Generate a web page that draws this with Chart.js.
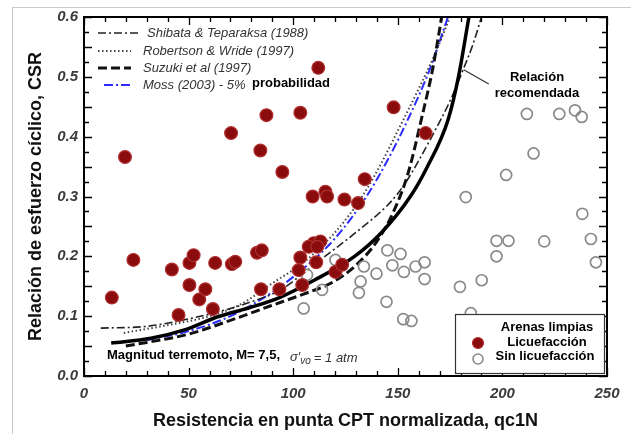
<!DOCTYPE html>
<html>
<head>
<meta charset="utf-8">
<script src="https://cdn.jsdelivr.net/npm/chart.js@4.4.0/dist/chart.umd.min.js"></script>
<style>
  html, body { margin: 0; padding: 0; background: #fff; overflow: hidden; }
  #frame { position: absolute; left: 12px; top: 7px; width: 700px; height: 500px; border: 1px solid #cacaca; }
  #wrap { position: absolute; left: 0; top: 0; width: 631px; height: 434px; }
</style>
</head>
<body>
<div id="frame"></div>
<div id="wrap"><canvas id="c" width="631" height="434"></canvas></div>
<script>
// Casos de licuefacción (rellenos) y sin licuefacción (vacíos)
const liqQc1N = [13.3, 19.6, 23.6, 42, 45.2, 50.4, 50.4, 52.4, 55.1, 58, 61.6, 62.7, 70.7, 72.3, 70.3,
  82.7, 85, 84.3, 87.2, 84.6, 93.4, 94.8, 103.4, 148, 163.3, 134.2, 109.3, 115.4, 116.2, 124.5, 131,
  109.8, 107.4, 113, 111.5, 103.4, 111, 102.6, 104.3, 120.2, 123.4, 112];
const liqCSR = [0.131, 0.366, 0.194, 0.178, 0.102, 0.152, 0.189, 0.202, 0.128, 0.145, 0.112, 0.189, 0.187, 0.191, 0.406,
  0.206, 0.21, 0.377, 0.436, 0.145, 0.145, 0.341, 0.44, 0.449, 0.406, 0.329, 0.3, 0.308, 0.3, 0.295, 0.289,
  0.222, 0.216, 0.225, 0.216, 0.198, 0.19, 0.177, 0.152, 0.174, 0.186, 0.515];

const noLiqQc1N = [120.2, 106.6, 113.8, 105, 133.8, 132.2, 131.4, 139.8, 145, 151.3, 147.4, 152.9, 158.5, 162.8, 162.8,
  144.6, 152.6, 156.5, 179.7, 182.5, 211.7, 227.2, 234.7, 237.9, 214.9, 201.8, 238.2, 197.2, 202.9, 220,
  242.3, 197.2, 244.7, 190.1, 184.9];
const noLiqCSR = [0.194, 0.169, 0.144, 0.113, 0.183, 0.158, 0.139, 0.171, 0.21, 0.204, 0.185, 0.174, 0.183, 0.19, 0.162,
  0.124, 0.095, 0.092, 0.149, 0.299, 0.438, 0.438, 0.444, 0.433, 0.372, 0.336, 0.271, 0.226, 0.226, 0.225,
  0.229, 0.2, 0.19, 0.16, 0.105];

// Curvas límite
const recQ = [13, 32, 48, 64, 80, 94, 110, 129, 142, 156, 164, 174, 179, 184];
const recCSR = [0.055, 0.063, 0.077, 0.099, 0.115, 0.132, 0.16, 0.199, 0.239, 0.30, 0.349, 0.428, 0.5, 0.6];

const shibataQ = [8, 30, 48, 64, 80, 94, 105, 113, 130, 145, 150, 155, 160, 167, 175, 181, 186, 190];
const shibataCSR = [0.08, 0.083, 0.094, 0.107, 0.124, 0.144, 0.172, 0.194, 0.24, 0.285, 0.305, 0.33, 0.36, 0.405, 0.46, 0.51, 0.555, 0.6];

const robertsonQ = [19, 40, 60, 75, 90, 105, 120, 133, 142, 150, 160, 168, 175];
const robertsonCSR = [0.072, 0.085, 0.1, 0.12, 0.155, 0.19, 0.24, 0.3, 0.355, 0.41, 0.48, 0.54, 0.6];

const suzukiQ = [20, 50, 70, 89, 105, 119, 130, 140, 148, 155, 162, 166.5, 171];
const suzukiCSR = [0.05, 0.07, 0.093, 0.117, 0.137, 0.157, 0.185, 0.225, 0.275, 0.34, 0.44, 0.51, 0.6];

const mossQ = [30, 50, 70, 90, 105, 120, 135, 145, 155, 165, 174];
const mossCSR = [0.06, 0.075, 0.1, 0.14, 0.18, 0.23, 0.3, 0.36, 0.43, 0.51, 0.6];

const xTickLabels = [0, 50, 100, 150, 200, 250];
const yTickLabels = [0.0, 0.1, 0.2, 0.3, 0.4, 0.5, 0.6];

const FONT = "'Liberation Sans', Arial, sans-serif";
const RED = '#8a0c0c';
const GRAY = '#8a8a8a';

const pts = (xs, ys) => xs.map((v, i) => ({ x: v, y: ys[i] }));

const curve = (data, color, width, dash) => ({
  type: 'line',
  data,
  borderColor: color,
  borderWidth: width,
  borderDash: dash,
  pointRadius: 0,
  fill: false,
  cubicInterpolationMode: 'monotone',
});

// Marcas, marco, leyendas y notas
const decor = {
  id: 'decor',
  afterDatasetsDraw(chart) {
    const { ctx, chartArea: a, scales: { x, y } } = chart;
    ctx.save();

    // marcas hacia dentro en los cuatro lados
    ctx.strokeStyle = '#000';
    ctx.lineWidth = 1.3;
    x.ticks.forEach(t => {
      const px = Math.round(x.getPixelForValue(t.value)) + 0.5;
      const len = t.value % 50 === 0 ? 8 : 5;
      ctx.beginPath();
      ctx.moveTo(px, a.bottom); ctx.lineTo(px, a.bottom - len);
      ctx.moveTo(px, a.top); ctx.lineTo(px, a.top + len);
      ctx.stroke();
    });
    y.ticks.forEach(t => {
      const py = Math.round(y.getPixelForValue(t.value)) + 0.5;
      const major = Math.abs(t.value * 20 - Math.round(t.value * 20)) < 1e-6;
      const len = major ? 8 : 5;
      ctx.beginPath();
      ctx.moveTo(a.left, py); ctx.lineTo(a.left + len, py);
      ctx.moveTo(a.right, py); ctx.lineTo(a.right - len, py);
      ctx.stroke();
    });

    // marco
    ctx.lineWidth = 2;
    ctx.strokeRect(a.left, a.top, a.right - a.left, a.bottom - a.top);

    // leyenda superior izquierda
    const items = [
      { label: 'Shibata & Teparaksa (1988)', color: '#222', width: 1.6, dash: [8, 3, 2, 3], x0: 98, x1: 138, tx: 147, y: 33 },
      { label: 'Robertson & Wride (1997)', color: '#444', width: 2, dash: [1.5, 2.5], x0: 98, x1: 131, tx: 143, y: 51 },
      { label: 'Suzuki et al (1997)', color: '#111', width: 3, dash: [9, 4], x0: 98, x1: 131, tx: 143, y: 68 },
      { label: 'Moss (2003) - 5%', color: '#2b2bff', width: 2, dash: [9, 3, 2, 3], x0: 104, x1: 131, tx: 143, y: 85 },
    ];
    ctx.textBaseline = 'middle';
    ctx.textAlign = 'left';
    items.forEach(it => {
      ctx.strokeStyle = it.color;
      ctx.lineWidth = it.width;
      ctx.setLineDash(it.dash);
      ctx.beginPath(); ctx.moveTo(it.x0, it.y); ctx.lineTo(it.x1, it.y); ctx.stroke();
      ctx.setLineDash([]);
      ctx.fillStyle = '#333';
      ctx.font = `italic 13px ${FONT}`;
      ctx.fillText(it.label, it.tx, it.y);
    });
    ctx.fillStyle = '#000';
    ctx.font = `bold 13px ${FONT}`;
    ctx.fillText('probabilidad', 252, 83);

    // relación recomendada
    ctx.textAlign = 'center';
    ctx.fillText('Relación', 537, 77);
    ctx.fillText('recomendada', 537, 93);
    ctx.strokeStyle = '#333';
    ctx.lineWidth = 1.2;
    ctx.beginPath();
    ctx.moveTo(x.getPixelForValue(181.5), y.getPixelForValue(0.512));
    ctx.lineTo(x.getPixelForValue(193.5), y.getPixelForValue(0.488));
    ctx.stroke();

    // nota inferior
    ctx.textAlign = 'left';
    ctx.fillStyle = '#000';
    ctx.font = `bold 13px ${FONT}`;
    ctx.fillText('Magnitud terremoto, M= 7,5,', 107, 355);
    ctx.fillStyle = '#333';
    ctx.font = `italic 13px ${FONT}`;
    let sx = 290;
    ctx.fillText('σ′', sx, 357);
    sx += ctx.measureText('σ′').width;
    ctx.font = `italic 10px ${FONT}`;
    ctx.fillText('vo', sx, 361);
    sx += ctx.measureText('vo').width + 3;
    ctx.font = `italic 13px ${FONT}`;
    ctx.fillText('= 1 atm', sx, 358);

    // leyenda de símbolos
    ctx.fillStyle = '#fff';
    ctx.fillRect(455, 314, 149, 59);
    ctx.strokeStyle = '#333';
    ctx.lineWidth = 1.2;
    ctx.strokeRect(455.5, 314.5, 149, 59);
    ctx.fillStyle = '#000';
    ctx.font = `bold 13px ${FONT}`;
    ctx.textAlign = 'center';
    ctx.fillText('Arenas limpias', 547, 327);
    ctx.fillText('Licuefacción', 547, 342);
    ctx.fillText('Sin licuefacción', 545, 356);
    ctx.beginPath(); ctx.arc(478, 343, 5.5, 0, Math.PI * 2);
    ctx.fillStyle = RED; ctx.fill();
    ctx.strokeStyle = '#b03030'; ctx.lineWidth = 1.2; ctx.stroke();
    ctx.beginPath(); ctx.arc(478, 359, 5, 0, Math.PI * 2);
    ctx.strokeStyle = GRAY; ctx.lineWidth = 1.6; ctx.stroke();

    ctx.restore();
  }
};

new Chart(document.getElementById('c'), {
  type: 'scatter',
  data: {
    datasets: [
      {
        label: 'Licuefacción',
        data: pts(liqQc1N, liqCSR),
        backgroundColor: RED,
        borderColor: '#b03030',
        borderWidth: 1.2,
        pointRadius: 6.4,
      },
      {
        label: 'Sin licuefacción',
        data: pts(noLiqQc1N, noLiqCSR),
        backgroundColor: 'rgba(255,255,255,0)',
        borderColor: GRAY,
        borderWidth: 1.7,
        pointRadius: 5.5,
      },
      curve(pts(recQ, recCSR), '#000', 3.5, []),
      curve(pts(suzukiQ, suzukiCSR), '#111', 3, [9, 4]),
      curve(pts(shibataQ, shibataCSR), '#222', 1.6, [8, 3, 2, 3]),
      curve(pts(robertsonQ, robertsonCSR), '#444', 2, [1.5, 2.5]),
      curve(pts(mossQ, mossCSR), '#2b2bff', 2, [9, 3, 2, 3]),
    ]
  },
  options: {
    responsive: false,
    animation: false,
    layout: { padding: { left: 0, right: 24, top: 17, bottom: 0 } },
    plugins: { legend: { display: false }, tooltip: { enabled: false } },
    scales: {
      x: {
        type: 'linear', min: 0, max: 250,
        afterFit(s) { s.height = 58; },
        grid: { drawOnChartArea: false, drawTicks: false },
        border: { display: false },
        ticks: {
          stepSize: 10, maxTicksLimit: 100, autoSkip: false, maxRotation: 0, padding: 9,
          color: '#3c3c3c', font: { family: FONT, size: 15, style: 'italic', weight: 'bold' },
          callback: v => xTickLabels.includes(v) ? String(v) : '',
        },
        title: {
          display: true, text: 'Resistencia en punta CPT normalizada, qc1N', color: '#111',
          font: { family: FONT, size: 18, weight: 'bold' }, padding: { top: 0, bottom: 2 },
        },
      },
      y: {
        min: 0, max: 0.6,
        afterFit(s) { s.width = 84; },
        grid: { drawOnChartArea: false, drawTicks: false },
        border: { display: false },
        ticks: {
          stepSize: 0.025, maxTicksLimit: 100, autoSkip: false, padding: 6,
          color: '#3c3c3c', font: { family: FONT, size: 15, style: 'italic', weight: 'bold' },
          callback: v => {
            const hit = yTickLabels.find(t => Math.abs(t - v) < 1e-6);
            return hit === undefined ? '' : hit.toFixed(1);
          },
        },
        title: {
          display: true, text: 'Relación de esfuerzo cíclico, CSR', color: '#111',
          font: { family: FONT, size: 18, weight: 'bold' }, padding: { top: 25, bottom: 0 },
        },
      },
    },
  },
  plugins: [decor],
});
</script>
</body>
</html>
